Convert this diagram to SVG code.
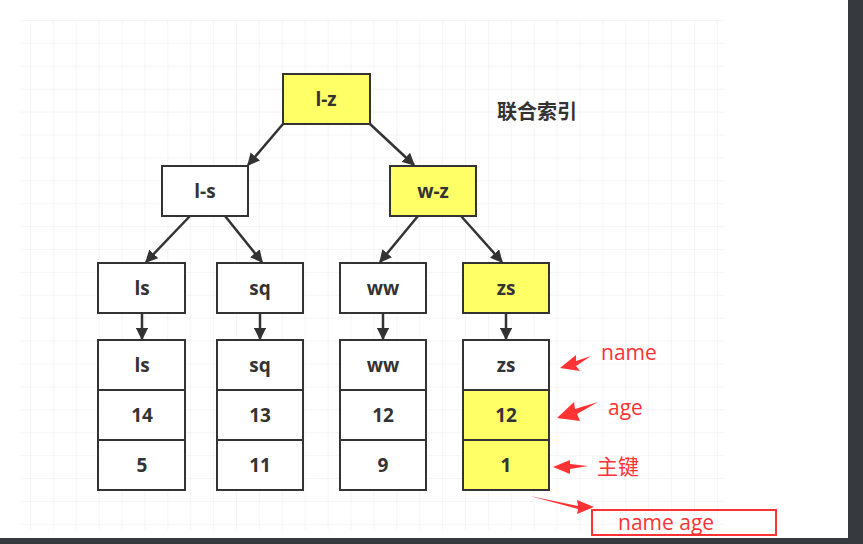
<svg xmlns="http://www.w3.org/2000/svg" width="863" height="544" viewBox="0 0 863 544">
<defs>
<pattern id="g" x="7" y="20" width="22.9" height="22.9" patternUnits="userSpaceOnUse"><path d="M0 0H22.9M0 0V22.9" stroke="#ececec" stroke-width="1" fill="none"/></pattern>
<marker id="a" viewBox="0 0 10 10" refX="9" refY="5" markerWidth="5" markerHeight="5" orient="auto"><path d="M0 0L10 5L0 10z" fill="#333"/></marker>
</defs>
<style>
.n{stroke:#333;stroke-width:2}
.w{fill:#fff}.y{fill:#ffff66}
.t{font-family:"Open Sans","Liberation Sans",sans-serif;font-weight:bold;font-size:19px;fill:#333;text-anchor:middle}
.r{font-family:"Open Sans","Noto Sans CJK SC",sans-serif;font-size:21px;fill:#f33}
.c line{stroke:#333;stroke-width:2.5;marker-end:url(#a)}
</style>
<rect width="863" height="544" fill="#fff"/>
<rect x="20" y="20" width="705" height="510" fill="url(#g)"/>
<rect x="848" y="0" width="15" height="544" fill="#36393d"/>
<rect x="0" y="538" width="863" height="6" fill="#36393d"/>
<g class="c">
<line x1="283" y1="124" x2="248" y2="165"/>
<line x1="370" y1="124" x2="414" y2="165"/>
<line x1="190" y1="216" x2="146" y2="262"/>
<line x1="225" y1="216" x2="262" y2="262"/>
<line x1="418" y1="216" x2="380" y2="262"/>
<line x1="461" y1="216" x2="502" y2="262"/>
<line x1="142" y1="313" x2="142" y2="339"/>
<line x1="260" y1="313" x2="260" y2="339"/>
<line x1="383" y1="313" x2="383" y2="339"/>
<line x1="506" y1="313" x2="506" y2="339"/>
</g>
<g id="lz"><rect class="n y" x="283" y="74" width="87" height="50"/><text class="t" x="326" y="106">l-z</text></g>
<g id="ls1"><rect class="n w" x="162" y="166" width="86" height="50"/><text class="t" x="205" y="198">l-s</text></g>
<g id="wz"><rect class="n y" x="390" y="166" width="86" height="50"/><text class="t" x="433" y="198">w-z</text></g>
<g id="ls"><rect class="n w" x="98" y="263" width="87" height="50"/><text class="t" x="142" y="295">ls</text></g>
<g id="sq"><rect class="n w" x="217" y="263" width="86" height="50"/><text class="t" x="260" y="295">sq</text></g>
<g id="ww"><rect class="n w" x="340" y="263" width="86" height="50"/><text class="t" x="383" y="295">ww</text></g>
<g id="zs"><rect class="n y" x="463" y="263" width="86" height="50"/><text class="t" x="506" y="295">zs</text></g>
<g id="t1"><rect class="n w" x="98" y="340" width="87" height="50"/><rect class="n w" x="98" y="390" width="87" height="50"/><rect class="n w" x="98" y="440" width="87" height="50"/>
<text class="t" x="142" y="372">ls</text><text class="t" x="142" y="422">14</text><text class="t" x="142" y="472">5</text></g>
<g id="t2"><rect class="n w" x="217" y="340" width="86" height="50"/><rect class="n w" x="217" y="390" width="86" height="50"/><rect class="n w" x="217" y="440" width="86" height="50"/>
<text class="t" x="260" y="372">sq</text><text class="t" x="260" y="422">13</text><text class="t" x="260" y="472">11</text></g>
<g id="t3"><rect class="n w" x="340" y="340" width="86" height="50"/><rect class="n w" x="340" y="390" width="86" height="50"/><rect class="n w" x="340" y="440" width="86" height="50"/>
<text class="t" x="383" y="372">ww</text><text class="t" x="383" y="422">12</text><text class="t" x="383" y="472">9</text></g>
<g id="t4"><rect class="n w" x="463" y="340" width="86" height="50"/><rect class="n y" x="463" y="390" width="86" height="50"/><rect class="n y" x="463" y="440" width="86" height="50"/>
<text class="t" x="506" y="372">zs</text><text class="t" x="506" y="422">12</text><text class="t" x="506" y="472">1</text></g>
<text x="497" y="119" font-family="'Noto Sans CJK SC',sans-serif" font-size="20" font-weight="bold" fill="#333">联合索引</text>
<g fill="#f33">
<path d="M560 368L576 355L576 361L591 356L576 366L580 371Z"/>
<path d="M557 418L574 402L575 409L598 402L577 414L580 421Z"/>
<path d="M553 467L570 460L570 464L588 466L570 469L570 474Z"/>
<path d="M530 496L578 506L577 500L594 507L577 514L578 509Z"/>
</g>
<text class="r" x="601" y="360">name</text>
<text class="r" x="608" y="415">age</text>
<text class="r" x="597" y="474">主键</text>
<rect x="592" y="510" width="184" height="25" fill="none" stroke="#f33" stroke-width="2"/>
<text class="r" x="618" y="530">name age</text>
</svg>
